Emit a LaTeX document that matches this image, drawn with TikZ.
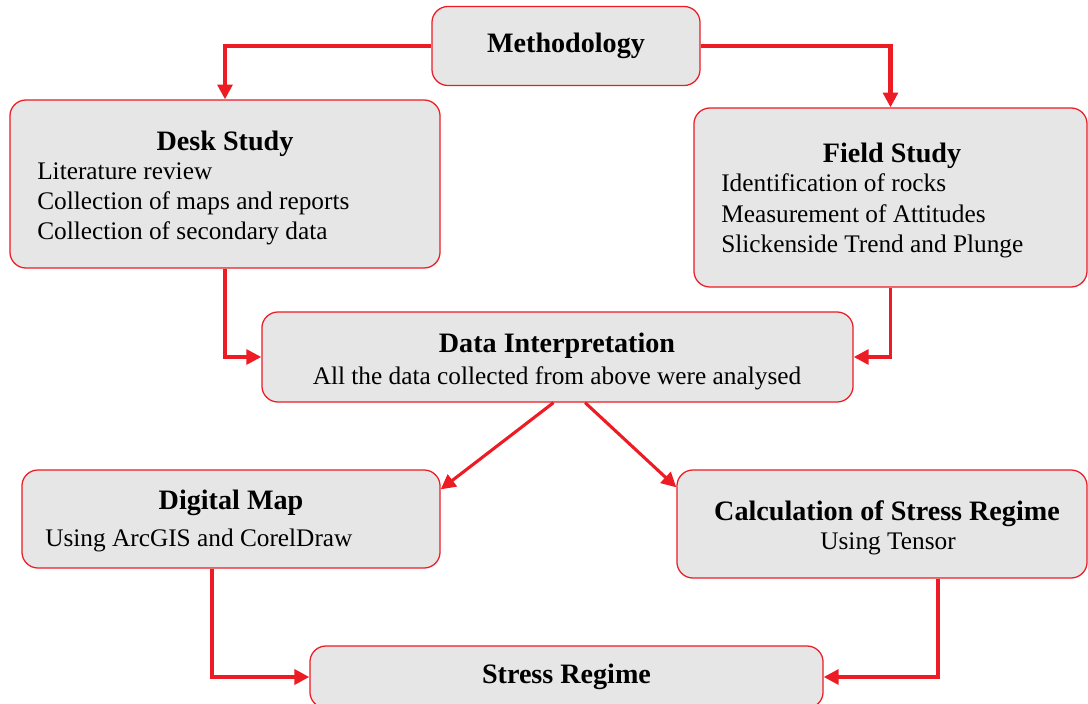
\documentclass[tikz,border=0pt]{standalone}
\usepackage{fontspec}
\setmainfont{Liberation Serif}
\usetikzlibrary{arrows.meta,positioning}
\definecolor{linkred}{RGB}{237,28,36}
\definecolor{boxgray}{RGB}{230,230,230}
\tikzset{
  stepbox/.style={draw=linkred, fill=boxgray, line width=0.9pt, rounded corners=0.4cm},
  boxtitle/.style={font=\fontsize{20}{24}\selectfont\bfseries, inner sep=0pt},
  boxtext/.style={font=\fontsize{18}{21.5}\selectfont, align=left, inner sep=0pt},
  link/.style={color=linkred, line width=2.2pt, ->},
}
\begin{document}
\begin{tikzpicture}[x=0.025cm, y=-0.025cm, >={Triangle[length=0.37cm,width=0.37cm]}]
  \useasboundingbox (0,0) rectangle (1088,704);

  % boxes
  \node[stepbox, boxtitle, minimum width=6.7cm, minimum height=1.975cm] (meth) at (566,46) {Methodology};
  \node[stepbox, minimum width=10.75cm, minimum height=4.2cm] (desk) at (225,184) {};
  \node[stepbox, minimum width=9.825cm, minimum height=4.475cm] (field) at (890.5,197.5) {};
  \node[stepbox, minimum width=14.775cm, minimum height=2.25cm] (data) at (557.5,357) {};
  \node[stepbox, minimum width=10.45cm, minimum height=2.45cm] (dmap) at (231,519) {};
  \node[stepbox, minimum width=10.25cm, minimum height=2.7cm] (calc) at (882,524) {};
  \node[stepbox, boxtitle, minimum width=12.825cm, minimum height=1.55cm] (stress) at (566.5,677) {Stress Regime};

  % texts
  \node[boxtitle] (desktitle) at (225,144) {Desk Study};
  \node[boxtext, anchor=west] (desktext) at (37,204) {Literature review\\Collection of maps and reports\\Collection of secondary data};
  \node[boxtitle] (fieldtitle) at (892,156) {Field Study};
  \node[boxtext, anchor=west] (fieldtext) at (721,216) {Identification of rocks\\Measurement of Attitudes\\Slickenside Trend and Plunge};
  \node[boxtitle] (datatitle) at (557,346) {Data Interpretation};
  \node[boxtext] (datatext) at (557,378) {All the data collected from above were analysed};
  \node[boxtitle] (dmaptitle) at (231,503) {Digital Map};
  \node[boxtext, anchor=west] (dmaptext) at (45,540) {Using ArcGIS and CorelDraw};
  \node[boxtitle] (calctitle) at (887,514) {Calculation of Stress Regime};
  \node[boxtext] (calctext) at (888,544) {Using Tensor};

  % connectors
  \draw[link, line width=3pt] (meth.west) -| (desk.north);
  \draw[link, line width=3pt] (meth.east) -| (field.north);
  \draw[link] (desk.south) |- (data.west);
  \draw[link] (field.south) |- (data.east);
  \draw[link] ([xshift=-0.1cm]data.south) -- ([yshift=-0.5cm]dmap.north east);
  \draw[link] ([xshift=0.69cm]data.south) -- ([yshift=-0.45cm]calc.north west);
  \draw[link, line width=3pt] ([xshift=-0.475cm]dmap.south) |- (stress.west);
  \draw[link] ([xshift=1.4cm]calc.south) |- (stress.east);
\end{tikzpicture}
\end{document}
